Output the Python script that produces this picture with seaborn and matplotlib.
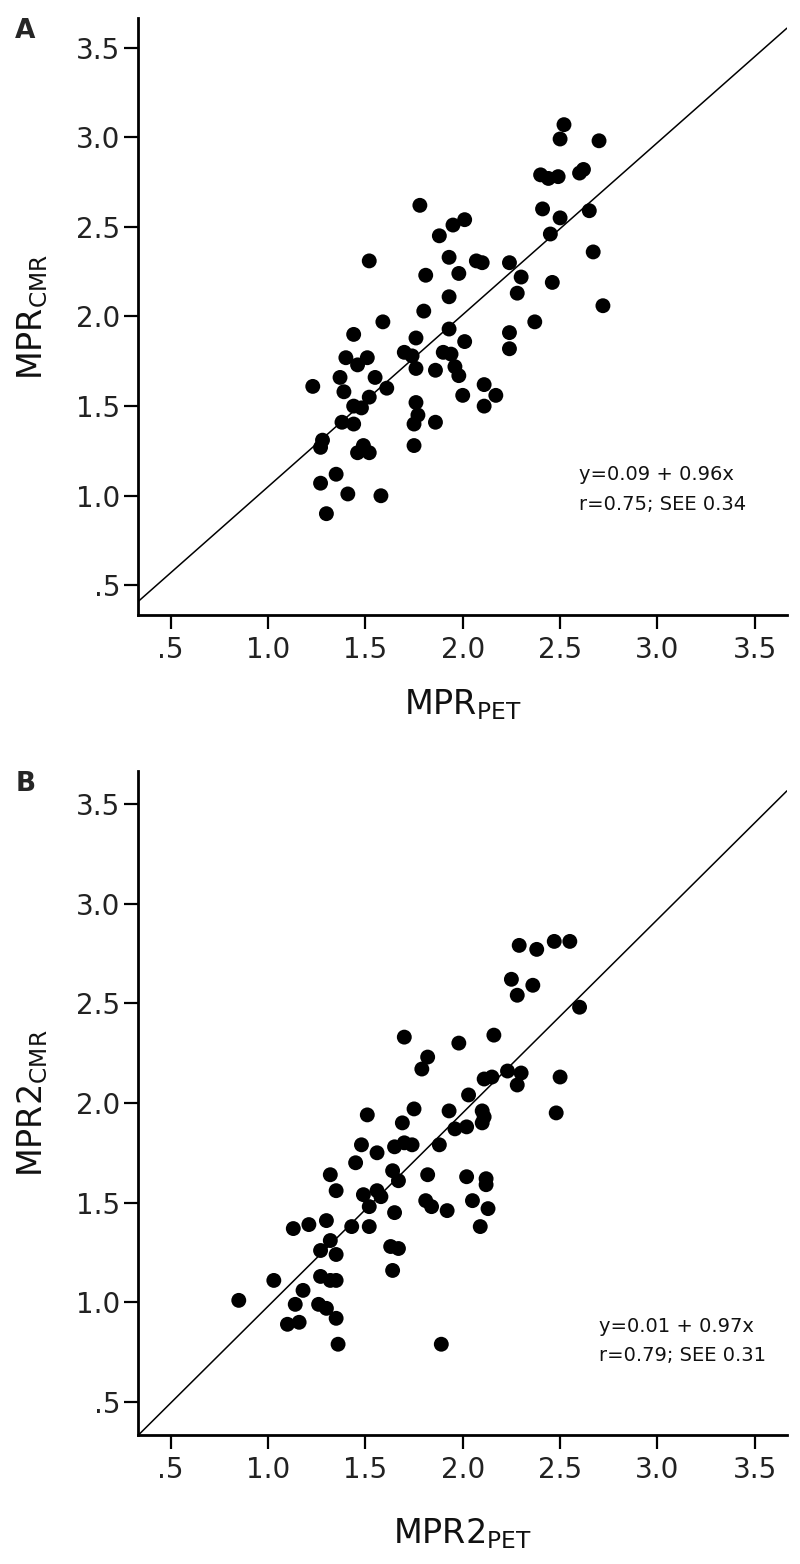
import numpy as np
import matplotlib
matplotlib.use('Agg')
import matplotlib.pyplot as plt
import seaborn as sns

# panel A: MPR PET vs CMR
mpr_pet = [1.78, 1.95, 2.01, 1.88, 1.52, 1.93, 1.81, 1.98, 1.93, 1.80,
           1.59, 1.44, 1.93, 2.01, 1.76, 1.70, 1.74, 1.90, 1.94, 1.40,
           1.51, 1.46, 1.76, 1.86, 1.96, 1.98, 1.37, 1.55, 1.23, 1.61,
           1.39, 1.52, 2.00, 1.76, 1.44, 1.48, 1.77, 1.38, 1.44, 1.75,
           1.86, 1.28, 1.27, 1.46, 1.49, 1.52, 1.75, 1.35, 1.27, 1.41,
           1.58, 1.30, 2.52, 2.50, 2.70, 2.40, 2.44, 2.49, 2.60, 2.62,
           2.41, 2.65, 2.50, 2.45, 2.07, 2.10, 2.24, 2.67, 2.30, 2.46,
           2.28, 2.72, 2.37, 2.24, 2.24, 2.11, 2.17, 2.11]
mpr_cmr = [2.62, 2.51, 2.54, 2.45, 2.31, 2.33, 2.23, 2.24, 2.11, 2.03,
           1.97, 1.90, 1.93, 1.86, 1.88, 1.80, 1.78, 1.80, 1.79, 1.77,
           1.77, 1.73, 1.71, 1.70, 1.72, 1.67, 1.66, 1.66, 1.61, 1.60,
           1.58, 1.55, 1.56, 1.52, 1.50, 1.49, 1.45, 1.41, 1.40, 1.40,
           1.41, 1.31, 1.27, 1.24, 1.28, 1.24, 1.28, 1.12, 1.07, 1.01,
           1.00, 0.90, 3.07, 2.99, 2.98, 2.79, 2.77, 2.78, 2.80, 2.82,
           2.60, 2.59, 2.55, 2.46, 2.31, 2.30, 2.30, 2.36, 2.22, 2.19,
           2.13, 2.06, 1.97, 1.91, 1.82, 1.62, 1.56, 1.50]

# panel B: MPR2 PET vs CMR
mpr2_pet = [1.70, 1.98, 1.82, 1.79, 2.03, 1.51, 1.75, 1.93, 1.69, 1.96,
            2.02, 1.48, 1.56, 1.65, 1.70, 1.74, 1.88, 1.45, 1.32, 1.64,
            1.82, 2.02, 1.35, 1.67, 1.49, 1.56, 1.58, 1.52, 1.81, 1.84,
            1.92, 2.05, 1.65, 1.30, 1.13, 1.21, 1.43, 1.52, 1.32, 1.27,
            1.35, 1.63, 1.67, 1.64, 1.03, 1.18, 1.27, 1.32, 1.35, 0.85,
            1.14, 1.26, 1.30, 1.35, 1.10, 1.16, 1.36, 1.89, 2.29, 2.38,
            2.47, 2.55, 2.25, 2.36, 2.28, 2.60, 2.16, 2.11, 2.15, 2.23,
            2.30, 2.28, 2.50, 2.10, 2.11, 2.10, 2.48, 2.12, 2.12, 2.13,
            2.09]
mpr2_cmr = [2.33, 2.30, 2.23, 2.17, 2.04, 1.94, 1.97, 1.96, 1.90, 1.87,
            1.88, 1.79, 1.75, 1.78, 1.80, 1.79, 1.79, 1.70, 1.64, 1.66,
            1.64, 1.63, 1.56, 1.61, 1.54, 1.56, 1.53, 1.48, 1.51, 1.48,
            1.46, 1.51, 1.45, 1.41, 1.37, 1.39, 1.38, 1.38, 1.31, 1.26,
            1.24, 1.28, 1.27, 1.16, 1.11, 1.06, 1.13, 1.11, 1.11, 1.01,
            0.99, 0.99, 0.97, 0.92, 0.89, 0.90, 0.79, 0.79, 2.79, 2.77,
            2.81, 2.81, 2.62, 2.59, 2.54, 2.48, 2.34, 2.12, 2.13, 2.16,
            2.15, 2.09, 2.13, 1.96, 1.93, 1.90, 1.95, 1.62, 1.59, 1.47,
            1.38]

fit_a = (0.09, 0.96)
fit_b = (0.01, 0.97)
stats_a = ['y=0.09 + 0.96x', 'r=0.75; SEE 0.34']
stats_b = ['y=0.01 + 0.97x', 'r=0.79; SEE 0.31']

tick_values = [0.5, 1.0, 1.5, 2.0, 2.5, 3.0, 3.5]
tick_labels = ['.5', '1.0', '1.5', '2.0', '2.5', '3.0', '3.5']
lims = (0.335, 3.665)

sns.set_style('ticks')
plt.rcParams['font.family'] = ['DejaVu Sans']
plt.rcParams['mathtext.default'] = 'regular'

fig = plt.figure(figsize=(8, 15.64), dpi=100)
ax_a = fig.add_axes([0.1731, 0.6068, 0.8106, 0.3817])
ax_b = fig.add_axes([0.1731, 0.0825, 0.8106, 0.4246])


def draw_panel(ax, x, y, fit, stats, xlabel, ylabel, letter, text_pos):
    sns.scatterplot(x=x, y=y, ax=ax, color='black', s=115, edgecolor='none',
                    linewidth=0, zorder=3)
    xs = np.array(lims)
    sns.lineplot(x=xs, y=fit[0] + fit[1] * xs, ax=ax, color='black', lw=1.1,
                 zorder=2)
    ax.set_xlim(lims)
    ax.set_ylim(lims)
    ax.set_xticks(tick_values, tick_labels)
    ax.set_yticks(tick_values, tick_labels)
    ax.tick_params(axis='both', length=10, width=1.6, labelsize=20,
                   color='black', labelcolor='#222222')
    ax.tick_params(axis='y', pad=3)
    ax.tick_params(axis='x', pad=5)
    sns.despine(ax=ax)
    for side in ['left', 'bottom']:
        ax.spines[side].set_linewidth(2.0)
        ax.spines[side].set_color('black')
    ax.set_xlabel(xlabel, fontsize=24, color='#111111')
    ax.set_ylabel(ylabel, fontsize=24, color='#111111')
    ax.xaxis.set_label_coords(0.5, -0.122)
    ax.yaxis.set_label_coords(-0.137, 0.5)
    tx, ty, dy = text_pos
    ax.text(tx, ty, stats[0], transform=ax.transAxes, fontsize=14,
            va='center', ha='left', color='#111111')
    ax.text(tx, ty - dy, stats[1], transform=ax.transAxes, fontsize=14,
            va='center', ha='left', color='#111111')
    ax.text(-0.19, 1.0, letter, transform=ax.transAxes, fontsize=19,
            fontweight='bold', va='top', ha='left')


draw_panel(ax_a, mpr_pet, mpr_cmr, fit_a, stats_a,
           r'MPR$_{PET}$', r'MPR$_{CMR}$', 'A', (0.68, 0.235, 0.05))
draw_panel(ax_b, mpr2_pet, mpr2_cmr, fit_b, stats_b,
           r'MPR2$_{PET}$', r'MPR2$_{CMR}$', 'B', (0.71, 0.163, 0.044))

fig.savefig('out.png', dpi=100, facecolor='white')
